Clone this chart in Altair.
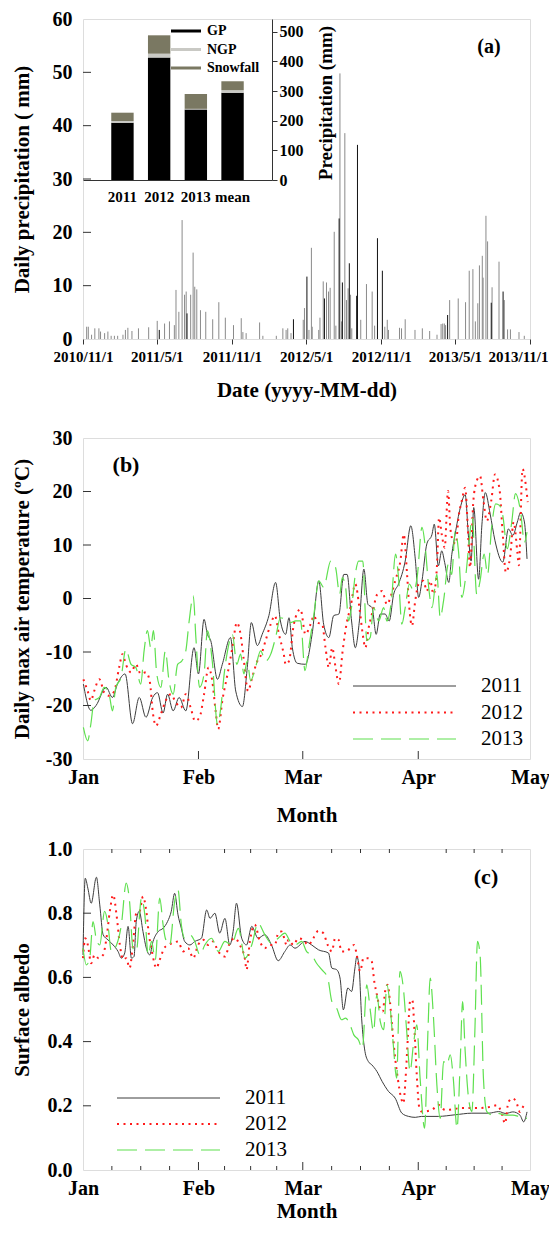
import altair as alt
import pandas as pd

FONT = "Liberation Serif"
AX = "#333333"

# ---------------- panel (a): daily precipitation ----------------
# day offsets from 2010-11-01 and daily precipitation (mm)
precip_gray_day = [9, 13, 21, 29, 39, 43, 53, 61, 69, 77, 85, 98, 104, 110, 120, 136, 161, 182, 200, 212,
                   224, 228, 235, 243, 249, 253, 264, 270, 274, 279, 288, 301, 318, 333, 349, 369, 388, 392,
                   400, 433, 441, 474, 490, 498, 502, 510, 540, 543, 554, 560, 562, 578, 581, 589, 597, 602,
                   606, 616, 620, 630, 634, 642, 646, 650, 656, 659, 681, 695, 709, 715, 740, 746, 749, 776,
                   781, 790, 814, 832, 850, 868, 878, 882, 886, 889, 899, 920, 938, 947, 956, 962, 968, 972,
                   979, 981, 988, 992, 1003, 1020, 1033, 1041, 1048, 1069, 1082]
precip_gray_mm = [2.3, 2.3, 0.8, 2.0, 2.0, 1.4, 1.1, 1.4, 0.6, 0.6, 0.6, 0.8, 1.7, 2.1, 1.5, 2.0, 2.2, 3.4, 2.9, 3.3,
                  2.6, 9.2, 5.1, 22.3, 8.3, 8.9, 8.3, 16.2, 9.8, 9.3, 5.4, 5.1, 3.7, 6.9, 4.0, 2.6, 3.9, 1.3,
                  1.1, 3.1, 0.6, 0.6, 2.0, 1.7, 2.0, 1.1, 3.6, 5.8, 1.7, 17.1, 2.3, 1.7, 4.0, 10.8, 10.6, 8.9,
                  9.6, 20.1, 2.5, 49.8, 3.3, 38.6, 7.3, 9.5, 8.3, 2.0, 3.6, 10.3, 8.9, 2.5, 2.3, 3.6, 1.7, 2.1,
                  2.0, 3.7, 1.7, 2.0, 1.5, 0.8, 2.8, 2.9, 2.9, 2.6, 7.3, 7.6, 6.9, 12.8, 13.1, 3.3, 6.7, 13.8,
                  15.6, 11.5, 23.1, 18.3, 9.7, 14.5, 7.3, 1.8, 1.8, 1.3, 0.6]
precip_black_day = [187, 255, 516, 549, 592, 628, 636, 653, 671, 673, 722, 734, 894, 1001, 1030]
precip_black_mm = [1.7, 4.8, 3.7, 11.7, 7.6, 22.6, 10.6, 14.2, 8.1, 36.4, 18.9, 12.8, 4.5, 6.8, 8.9]

# inset: annual precipitation (mm)
inset_years = ["2011", "2012", "2013", "mean"]
inset_gp = [193, 413, 238, 294]
inset_ngp = [6, 13, 2, 9]
inset_snow = [28, 62, 50, 30]
inset_types = ["GP", "NGP", "Snowfall"]
inset_colors = ["#000000", "#c9c9c4", "#7a7862"]

a_axis_dates = ["2010-11-01", "2011-05-01", "2011-11-01", "2012-05-01", "2012-11-01", "2013-05-01", "2013-11-01"]
a_yticks = [10, 20, 30, 40, 50]

# ---------------- panel (b): daily max air temperature ----------------
# day offsets from Jan 1 and temperature (degC)
tmax2011_day = [0.1, 2.1, 3.5, 6.2, 7.9, 9.3, 11.3, 13.3, 15.1, 16.9, 18.7, 20.0, 21.5, 22.7, 24.2, 25.8, 27.6,
                29.8, 31.0, 32.5, 33.4, 34.3, 36.1, 37.4, 39.6, 41.0, 42.8, 44.1, 45.2, 46.8, 48.1, 49.9, 51.7,
                53.0, 54.4, 55.3, 56.2, 57.5, 59.7, 61.5, 63.3, 64.6, 66.0, 67.3, 68.7, 70.0, 70.9, 72.1, 73.1,
                74.2, 75.4, 76.5, 77.6, 78.7, 79.8, 81.1, 82.2, 83.4, 84.7, 86.5, 88.0, 89.2, 90.1, 91.0, 92.3,
                93.7, 94.3, 95.4, 96.3, 97.1, 98.2, 99.0, 99.9, 101.3, 102.6, 103.5, 104.2, 104.9, 106.2, 107.1,
                108.0, 109.3, 110.6, 112.7, 114.2, 115.4, 116.6, 117.5, 118.5, 119.2]
tmax2011_val = [-16.0, -20.9, -20.0, -16.6, -18.5, -15.9, -14.1, -23.4, -18.5, -22.2, -18.5, -17.6, -21.4, -17.9,
                -21.0, -18.5, -21.0, -9.2, -14.1, -3.9, -6.7, -7.9, -15.1, -12.3, -7.3, -17.3, -20.2, -12.9,
                -4.5, -8.8, -6.7, -3.2, 3.0, -4.2, -6.7, -3.6, -9.2, -12.1, -12.3, -6.7, 3.3, -4.8, -7.3, -3.2,
                -2.9, 4.5, 4.5, -4.2, -9.2, -4.2, 5.5, -1.1, -1.7, -6.7, -2.9, -2.9, -4.2, 0.8, 2.7, 7.0, 13.6,
                7.4, 0.2, 3.3, 10.2, 12.0, 13.9, 6.1, 8.9, 6.7, 3.0, 8.2, 12.0, 17.0, 19.4, 11.4, 7.0, 17.0, 3.6,
                13.9, 19.8, 15.8, 10.8, 6.8, 13.0, 11.8, 14.3, 16.1, 14.3, 7.4]
tmax2012_day = [0.1, 1.25, 2.1, 3.0, 4.4, 5.7, 7.1, 8.4, 9.7, 10.6, 11.5, 12.9, 14.2, 15.5, 16.9, 17.9, 18.8, 19.6,
                20.9, 22.2, 23.6, 24.9, 26.3, 27.6, 28.9, 30.1, 31.3, 32.5, 33.7, 34.7, 35.6, 36.3, 37.4, 38.8,
                40.1, 41.3, 42.3, 43.2, 44.3, 45.4, 46.8, 47.9, 49.0, 50.4, 51.5, 52.6, 53.9, 54.4, 55.3, 56.6,
                58.4, 59.7, 61.1, 62.0, 62.9, 64.2, 65.1, 66.0, 66.9, 67.8, 68.7, 69.7, 70.9, 71.8, 73.1, 74.2,
                75.1, 75.8, 76.7, 77.8, 79.0, 80.3, 81.6, 82.8, 83.8, 85.2, 86.1, 87.0, 87.6, 88.3, 89.2, 90.1,
                91.4, 92.3, 93.2, 94.1, 95.0, 95.6, 96.3, 97.1, 98.0, 98.6, 99.3, 100.1, 100.8, 101.7, 102.6,
                103.3, 103.9, 104.8, 105.7, 106.6, 107.5, 108.4, 109.6, 110.6, 111.8, 112.7, 113.5, 114.7, 115.6,
                116.6, 117.0, 118.0, 119.0, 119.4]
tmax2012_val = [-15.1, -17.3, -19.1, -17.3, -15.1, -17.6, -18.2, -17.3, -12.9, -10.4, -12.3, -13.8, -12.3, -14.1,
                -13.8, -15.4, -21.6, -23.8, -21.6, -19.1, -17.9, -19.4, -20.4, -17.9, -20.4, -22.9, -22.2, -17.9,
                -12.9, -15.4, -21.0, -24.4, -19.1, -14.1, -9.2, -4.5, -6.7, -11.7, -17.3, -14.8, -11.7, -10.4,
                -7.9, -4.8, -3.2, -6.7, -10.4, -12.3, -11.7, -4.8, -2.0, -6.7, -4.8, -3.2, -4.5, -4.8, -9.2,
                -12.9, -9.2, -12.9, -16.0, -9.8, -4.2, -1.7, 2.7, -1.7, -6.7, -9.2, -5.4, -2.3, 0.8, 1.4, -1.1,
                0.8, 3.3, 7.0, 12.0, 4.5, -1.7, -5.1, -0.4, 2.7, 3.3, 1.4, 3.3, 0.8, 5.8, 15.1, 12.0, 9.5, 20.1,
                13.3, 10.8, 10.2, 15.1, 18.3, 20.7, 13.3, 5.8, 18.3, 22.0, 22.9, 18.3, 14.5, 18.3, 23.2, 20.5,
                11.8, 4.9, 8.0, 14.3, 8.7, 6.2, 24.2, 20.5, 18.0]
tmax2013_day = [0.1, 1.25, 2.1, 3.0, 4.4, 5.7, 7.1, 7.9, 8.8, 10.2, 11.5, 12.9, 14.2, 15.5, 16.4, 17.3, 18.2, 18.9,
                19.8, 20.9, 22.1, 23.1, 24.2, 25.4, 26.5, 27.6, 28.5, 29.6, 30.3, 31.3, 32.5, 33.4, 34.7, 36.1,
                37.0, 37.9, 38.8, 40.1, 41.3, 42.3, 43.2, 44.1, 45.0, 46.3, 47.7, 49.0, 50.4, 51.7, 53.0, 54.4,
                55.7, 57.1, 58.4, 59.6, 60.6, 62.0, 63.3, 64.6, 66.5, 67.8, 68.9, 69.6, 70.5, 71.3, 72.2, 73.1,
                74.0, 75.1, 76.2, 77.1, 78.0, 79.4, 80.7, 81.6, 82.8, 83.9, 84.7, 85.6, 86.5, 87.6, 88.8, 89.7,
                91.0, 91.9, 92.8, 93.7, 95.0, 95.9, 96.8, 98.1, 99.0, 99.9, 100.8, 101.7, 102.8, 103.6, 104.5,
                105.7, 106.6, 107.7, 108.6, 109.7, 110.8, 111.8, 112.7, 113.9, 115.1, 116.1, 117.5, 118.5, 119.2]
tmax2013_val = [-24.1, -26.6, -23.5, -19.1, -18.5, -16.6, -18.2, -21.0, -16.6, -14.8, -9.5, -12.3, -12.9, -16.0,
                -9.8, -6.0, -9.2, -6.0, -14.1, -16.6, -9.8, -15.4, -17.9, -12.3, -11.7, -9.8, -4.2, 0.5, -7.3,
                -16.6, -14.1, -6.0, -11.7, -23.5, -20.4, -14.1, -9.8, -6.7, -12.3, -10.4, -14.1, -11.7, -15.4,
                -12.9, -9.8, -11.7, -10.4, -7.3, -3.6, -3.9, -4.5, -4.2, -4.2, -13.5, -9.2, -2.9, 3.3, 2.1, 7.0,
                5.8, 0.8, 3.9, 2.1, -4.2, -1.1, 4.5, 7.0, 7.0, -7.9, -7.3, -1.7, -4.2, -1.7, -4.2, -0.4, 8.3, 3.9,
                -4.8, -1.7, 2.7, 1.4, 3.9, 13.3, 9.5, 2.1, -1.7, 4.5, -3.6, -0.4, 6.5, 4.5, 12.6, 8.9, 0.2, 4.5,
                10.2, 15.1, 0.8, 3.3, 8.3, 4.5, 13.3, 17.7, 17.4, 15.5, 9.3, 14.3, 19.6, 16.1, 10.5, 12.4]

# ---------------- panel (c): surface albedo ----------------
alb2011_day = [0, 0.6, 1.3, 2.2, 3.6, 4.5, 5.4, 6.7, 8.1, 9.4, 10.3, 11.2, 12.1, 13.0, 13.7, 14.3, 15.1, 16.1, 17.0,
               17.9, 18.8, 20.2, 21.5, 22.7, 23.7, 24.6, 25.5, 26.4, 27.3, 28.7, 30.0, 31.8, 33.2, 34.1, 35.4, 36.7,
               38.1, 39.4, 40.3, 41.2, 42.6, 43.9, 45.3, 47.0, 48.8, 50.6, 52.4, 54.2, 55.6, 56.9, 59.6, 61.4,
               63.2, 65.9, 66.8, 68.1, 69.0, 69.9, 71.1, 72.1, 73.0, 73.5, 74.1, 74.8, 75.7, 76.6, 77.5, 78.9,
               80.3, 82.0, 83.8, 85.6, 87.4, 89.2, 90.9, 95.4, 99.9, 104.4, 108.9, 111.6, 113.5, 115.4, 117.3,
               118.3, 119.2]
alb2011_val = [0.670, 0.909, 0.878, 0.831, 0.912, 0.826, 0.733, 0.717, 0.701, 0.681, 0.660, 0.676, 0.759, 0.660,
               0.665, 0.774, 0.806, 0.743, 0.691, 0.670, 0.712, 0.743, 0.753, 0.774, 0.806, 0.862, 0.795, 0.753,
               0.712, 0.701, 0.712, 0.722, 0.810, 0.784, 0.800, 0.738, 0.784, 0.701, 0.743, 0.831, 0.722, 0.701,
               0.759, 0.722, 0.733, 0.701, 0.652, 0.681, 0.701, 0.691, 0.712, 0.701, 0.686, 0.676, 0.629, 0.624,
               0.598, 0.499, 0.567, 0.556, 0.629, 0.665, 0.634, 0.473, 0.369, 0.338, 0.328, 0.307, 0.276, 0.245,
               0.224, 0.177, 0.167, 0.164, 0.167, 0.167, 0.172, 0.177, 0.177, 0.182, 0.176, 0.181, 0.171, 0.150,
               0.181]
alb2012_day = [0, 0.6, 1.3, 2.2, 3.1, 4.2, 5.4, 6.3, 7.2, 8.1, 9.0, 9.9, 10.8, 11.6, 12.5, 13.4, 14.3, 15.2, 16.1,
               17.0, 17.7, 18.5, 19.7, 20.6, 21.8, 22.8, 24.2, 25.5, 26.9, 28.2, 29.6, 30.9, 32.3, 33.6, 34.9, 36.3,
               38.1, 39.4, 40.8, 42.1, 43.5, 43.9, 44.8, 46.1, 47.5, 48.8, 50.2, 51.5, 52.4, 53.3, 54.7, 55.1,
               56.5, 57.8, 59.1, 60.5, 61.8, 63.2, 64.5, 65.7, 66.8, 67.7, 68.6, 69.4, 70.8, 71.7, 72.8, 73.5,
               74.4, 75.3, 76.6, 77.5, 78.2, 78.9, 79.7, 80.5, 81.1, 81.8, 82.4, 83.1, 83.8, 84.5, 85.4, 86.0,
               86.6, 87.2, 87.8, 88.4, 89.0, 89.6, 90.3, 91.0, 93.6, 95.4, 97.2, 101.7, 106.2, 109.8, 111.1, 112.3,
               113.3, 114.2, 115.4, 116.3, 117.3, 118.5, 119.2]
alb2012_val = [0.660, 0.722, 0.701, 0.644, 0.670, 0.660, 0.670, 0.722, 0.806, 0.857, 0.795, 0.701, 0.655, 0.660,
               0.629, 0.701, 0.800, 0.806, 0.852, 0.806, 0.733, 0.681, 0.629, 0.655, 0.691, 0.701, 0.707, 0.712,
               0.681, 0.691, 0.660, 0.701, 0.717, 0.701, 0.712, 0.681, 0.665, 0.707, 0.722, 0.701, 0.655, 0.624,
               0.712, 0.764, 0.712, 0.691, 0.701, 0.701, 0.738, 0.743, 0.701, 0.717, 0.701, 0.722, 0.717, 0.701,
               0.722, 0.745, 0.738, 0.701, 0.681, 0.722, 0.717, 0.681, 0.681, 0.691, 0.701, 0.670, 0.619, 0.660,
               0.660, 0.650, 0.587, 0.546, 0.504, 0.494, 0.556, 0.577, 0.525, 0.432, 0.349, 0.286, 0.224, 0.208,
               0.286, 0.411, 0.525, 0.530, 0.432, 0.296, 0.193, 0.182, 0.187, 0.203, 0.187, 0.193, 0.193, 0.198,
               0.202, 0.181, 0.145, 0.212, 0.223, 0.212, 0.181, 0.202, 0.197]
alb2013_day = [0, 0.9, 1.8, 2.7, 3.6, 4.5, 5.8, 6.7, 7.6, 9.0, 10.3, 11.6, 12.5, 13.4, 14.3, 15.7, 16.6, 17.5, 18.4,
               19.4, 20.6, 21.5, 22.1, 23.3, 24.6, 25.5, 26.4, 27.3, 28.7, 30.0, 31.4, 32.7, 34.5, 36.3, 38.1, 39.9,
               41.7, 43.5, 45.3, 47.0, 48.8, 50.6, 52.4, 54.2, 55.6, 56.9, 58.7, 60.0, 61.4, 62.7, 64.1, 65.7,
               66.8, 68.1, 69.4, 70.5, 71.7, 72.7, 73.9, 75.0, 76.2, 77.1, 78.0, 78.9, 79.8, 80.7, 81.6, 82.4,
               83.3, 84.2, 85.1, 86.0, 86.9, 87.8, 88.7, 89.6, 90.5, 91.7, 92.6, 93.2, 94.1, 95.0, 95.9, 96.8,
               97.7, 98.6, 99.4, 100.4, 101.3, 101.9, 102.6, 103.5, 104.4, 105.2, 105.9, 106.6, 107.5, 108.4,
               109.8, 111.1, 113.5, 115.4, 117.3, 119.2]
alb2013_val = [0.691, 0.639, 0.660, 0.774, 0.717, 0.701, 0.806, 0.764, 0.681, 0.701, 0.764, 0.894, 0.836, 0.691,
               0.681, 0.847, 0.795, 0.670, 0.712, 0.655, 0.847, 0.764, 0.722, 0.701, 0.836, 0.873, 0.764, 0.722,
               0.733, 0.712, 0.670, 0.701, 0.722, 0.681, 0.712, 0.701, 0.753, 0.660, 0.701, 0.769, 0.733, 0.707,
               0.722, 0.738, 0.712, 0.701, 0.712, 0.681, 0.670, 0.644, 0.624, 0.598, 0.525, 0.504, 0.468, 0.473,
               0.452, 0.421, 0.406, 0.379, 0.577, 0.499, 0.432, 0.546, 0.463, 0.437, 0.577, 0.515, 0.390, 0.286,
               0.619, 0.567, 0.432, 0.307, 0.390, 0.452, 0.286, 0.130, 0.432, 0.598, 0.473, 0.265, 0.161, 0.338,
               0.328, 0.359, 0.286, 0.130, 0.349, 0.525, 0.369, 0.224, 0.182, 0.432, 0.712, 0.670, 0.286, 0.182,
               0.172, 0.177, 0.171, 0.171, 0.166, 0.161]

month_dates = ["2011-01-01", "2011-02-01", "2011-03-01", "2011-04-01", "2011-05-01"]
minor_tick_day = [7.75, 15.5, 23.25, 38, 45, 52, 66.75, 74.5, 82.25, 97.5, 105, 112.5]
b_yticks = [-20, -10, 0, 10, 20]
c_yticks = [0.2, 0.4, 0.6, 0.8]
years = ["2011", "2012", "2013"]

# ---------------- layout constants ----------------
W = 447
HA, HB, HC = 320, 321, 321
INSET_W, INSET_H = 189, 161

LBL = dict(labelFont=FONT, labelFontWeight="bold", labelColor="black",
           titleFont=FONT, titleFontWeight="bold", titleColor="black")


def dt(s):
    t = pd.Timestamp(s)
    return alt.DateTime(year=t.year, month=t.month, date=t.day)


def ytick_rules(vals, scale, axis):
    return alt.Chart(pd.DataFrame({"v": vals})).mark_rule(color=AX, strokeWidth=1).encode(
        y=alt.Y("v:Q", scale=scale, axis=axis), x=alt.value(0), x2=alt.value(8))


def xtick_rules(dates, scale, axis, y0, y1):
    return alt.Chart(pd.DataFrame({"d": pd.to_datetime(dates)})).mark_rule(color=AX, strokeWidth=1).encode(
        x=alt.X("d:T", scale=scale, axis=axis), y=alt.value(y0), y2=alt.value(y1))


def label_text(txt, x, y, size, weight="bold", align="center"):
    return alt.Chart(pd.DataFrame({"t": [txt]})).mark_text(
        font=FONT, fontSize=size, fontWeight=weight, color="black", align=align, baseline="middle"
    ).encode(x=alt.value(x), y=alt.value(y), text="t:N")


def legend_entry(txt, x0, x1, xl, y, style, size, weight):
    line = alt.Chart(pd.DataFrame({"t": [txt]})).mark_rule(strokeCap="butt", **style).encode(
        x=alt.value(x0), x2=alt.value(x1), y=alt.value(y))
    return [line, label_text(txt, xl, y, size, weight, "left")]


def y_axis(values, title, height, **kw):
    return alt.Axis(values=values, labelFontSize=20, ticks=False, domain=False, grid=False,
                    labelPadding=11, title=title, titleFontSize=21, titleX=-61, titleY=height / 2,
                    titleAngle=270, titleBaseline="middle", titleAlign="center", **kw, **LBL)


# ---------------- panel (a) ----------------
start_a = pd.Timestamp("2010-11-01")
df_gray = pd.DataFrame({"date": start_a + pd.to_timedelta(precip_gray_day, unit="D"), "mm": precip_gray_mm})
df_black = pd.DataFrame({"date": start_a + pd.to_timedelta(precip_black_day, unit="D"), "mm": precip_black_mm})

xa = alt.Scale(domain=[dt("2010-11-01"), dt("2013-11-01")], nice=False)
ya = alt.Scale(domain=[0, 60], nice=False)
LAST_LABEL = "datum.value > 1375000000000"   # the 2013/11/1 label, kept inside the page
xa_axis = alt.Axis(
    values=[dt(s) for s in a_axis_dates], format="%Y/%-m/%-d", labelFontSize=15, labelFlush=False,
    labelAlign={"condition": {"test": LAST_LABEL, "value": "right"}, "value": "center"},
    labelOffset={"condition": {"test": LAST_LABEL, "value": 18}, "value": 0},
    labelOverlap=False, ticks=True, tickSize=5, tickColor=AX, domain=False,
    grid=False, labelPadding=5, title="Date (yyyy-MM-dd)", titleFontSize=21, titleY=51,
    titleBaseline="middle", **LBL)
ya_axis = y_axis([0, 10, 20, 30, 40, 50, 60], "Daily precipitation ( mm)", HA)

gray = alt.Chart(df_gray).mark_rule(color="#8a8a8a", strokeWidth=1).encode(
    x=alt.X("date:T", scale=xa, axis=xa_axis), y=alt.Y("mm:Q", scale=ya, axis=ya_axis), y2=alt.datum(0))
black = alt.Chart(df_black).mark_rule(color="#111111", strokeWidth=1).encode(
    x=alt.X("date:T", scale=xa, axis=xa_axis), y=alt.Y("mm:Q", scale=ya, axis=ya_axis), y2=alt.datum(0))

main_a = alt.layer(gray, black, ytick_rules(a_yticks, ya, ya_axis), label_text("(a)", 406, 28, 20))

bar_rows = []
for i, yr in enumerate(inset_years):
    for k, (tp, vals) in enumerate(zip(inset_types, [inset_gp, inset_ngp, inset_snow])):
        bar_rows.append({"year": yr, "type": tp, "mm": vals[i], "k": k})
df_bars = pd.DataFrame(bar_rows)

bars = alt.Chart(df_bars).mark_bar().encode(
    x=alt.X("year:N", sort=inset_years,
            scale=alt.Scale(range=[0, INSET_W], paddingInner=0.39, paddingOuter=0.77),
            axis=alt.Axis(orient="bottom", offset=-(HA - INSET_H), labelAngle=0, labelFontSize=15,
                          ticks=False, domain=True, domainColor=AX, labelPadding=9, title=None, **LBL)),
    y=alt.Y("mm:Q", stack="zero", scale=alt.Scale(domain=[0, 543], range=[INSET_H, 0], nice=False),
            axis=alt.Axis(orient="right", offset=-(W - INSET_W), values=[0, 100, 200, 300, 400, 500],
                          labelFontSize=16, ticks=True, tickSize=5, tickColor=AX, domain=True,
                          domainColor=AX, labelPadding=2, grid=False, title="Precipitation (mm)",
                          titleFontSize=19, titleAngle=270, titleX=53, titleY=INSET_H / 2 + 3,
                          titleBaseline="middle", titleAlign="center", **LBL)),
    color=alt.Color("type:N", scale=alt.Scale(domain=inset_types, range=inset_colors), legend=None),
    order=alt.Order("k:Q"),
)
inset_leg = []
for j, (tp, col) in enumerate(zip(inset_types, inset_colors)):
    inset_leg += legend_entry(tp, 88, 118, 124, 12 + 18.5 * j, dict(color=col, strokeWidth=3), 14, "bold")

inset_a = alt.layer(bars, *inset_leg)
panel_a = alt.layer(main_a, inset_a).resolve_scale(x="independent", y="independent").properties(
    width=W, height=HA)

# ---------------- panels (b) and (c) ----------------
start_y = pd.Timestamp("2011-01-01")
xm = alt.Scale(domain=[dt("2011-01-01"), dt("2011-05-01")], nice=False)

styles = [
    dict(color="#3c3c3c", strokeWidth=1),
    dict(color="#ff1a1a", strokeWidth=2, strokeDash=[2, 4.5]),
    dict(color="#5fe04f", strokeWidth=1.2, strokeDash=[20, 8]),
]


def month_axis(title_y):
    return alt.Axis(values=[dt(s) for s in month_dates], format="%b", labelFontSize=20, labelFlush=False,
                    ticks=False, domain=False, grid=False, labelPadding=8, title="Month",
                    titleFontSize=21, titleY=title_y, titleBaseline="middle", **LBL)


def series_layers(days_list, vals_list, yscale, xaxis, yaxis, field):
    layers = []
    for dd, vv, st in zip(days_list, vals_list, styles):
        df = pd.DataFrame({"date": start_y + pd.to_timedelta(dd, unit="D"), field: vv})
        layers.append(alt.Chart(df).mark_line(interpolate="monotone", **st).encode(
            x=alt.X("date:T", scale=xm, axis=xaxis),
            y=alt.Y(f"{field}:Q", scale=yscale, axis=yaxis)))
    return layers


yb = alt.Scale(domain=[-30, 30], nice=False)
xb_axis = month_axis(56)
yb_axis = y_axis([-30, -20, -10, 0, 10, 20, 30], "Daily max air temperature (ºC)", HB,
                 labelExpr="datum.value + ''")
b_lines = series_layers(
    [tmax2011_day, tmax2012_day, tmax2013_day], [tmax2011_val, tmax2012_val, tmax2013_val], yb,
    xb_axis, yb_axis, "t")
b_leg = []
for j, (yr, st) in enumerate(zip(years, styles)):
    b_leg += legend_entry(yr, 270, 373, 398, 248 + 26.5 * j, st, 21, "normal")
panel_b = alt.layer(
    *b_lines,
    xtick_rules(month_dates[1:-1], xm, xb_axis, HB, HB - 8),
    ytick_rules(b_yticks, yb, yb_axis),
    label_text("(b)", 43, 27, 22),
    *b_leg,
).properties(width=W, height=HB)

yc = alt.Scale(domain=[0, 1], nice=False)
xc_axis = month_axis(41)
yc_axis = y_axis([0, 0.2, 0.4, 0.6, 0.8, 1.0], "Surface albedo", HC, format=".1f")
c_lines = series_layers(
    [alb2011_day, alb2012_day, alb2013_day], [alb2011_val, alb2012_val, alb2013_val], yc,
    xc_axis, yc_axis, "a")
c_leg = []
for j, (yr, st) in enumerate(zip(years, styles)):
    c_leg += legend_entry(yr, 34, 137, 162, 249 + 26 * j, st, 21, "normal")
minor_dates = list(start_y + pd.to_timedelta(minor_tick_day, unit="D"))
panel_c = alt.layer(
    *c_lines,
    xtick_rules(month_dates[1:-1], xm, xc_axis, HC, HC - 8),
    xtick_rules(minor_dates, xm, xc_axis, HC, HC - 4),
    xtick_rules(minor_dates, xm, xc_axis, 0, 4),
    ytick_rules(c_yticks, yc, yc_axis),
    label_text("(c)", 403, 28, 22),
    *c_leg,
).properties(width=W, height=HC)

inner = alt.vconcat(panel_b, panel_c, spacing=90, bounds="flush")
chart = alt.vconcat(panel_a, inner, spacing=99, bounds="flush").properties(
    padding={"left": 2, "top": 0, "right": -1, "bottom": 0}
).configure_view(stroke=AX, strokeWidth=1).configure(font=FONT)

chart.save("out.html", embed_options={"renderer": "svg", "actions": False})
